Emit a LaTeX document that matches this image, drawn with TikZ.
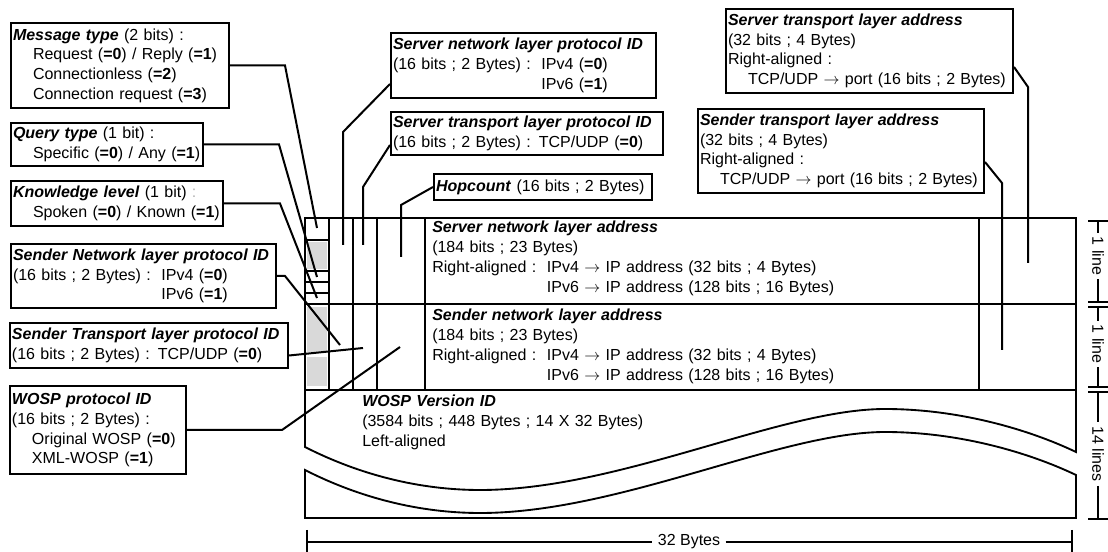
\documentclass[tikz,border=0pt]{standalone}
\usepackage{fontspec}
\setmainfont{Liberation Sans}
\usetikzlibrary{calc}
\newcommand\bfit[1]{\textbf{\textit{#1}}}
\newcommand\ind{\hspace*{15pt}}
\begin{document}
\begin{tikzpicture}[x=0.75pt,y=-0.75pt,
  every node/.style={font=\fontsize{12}{14.8}\selectfont},
  lbox/.style={draw, line width=1.5pt, anchor=north west, align=left, inner xsep=1.5pt, inner ysep=0pt},
  ptxt/.style={anchor=base west, align=left, inner sep=0pt},
  ptr/.style={line width=1.5pt},
  grid/.style={line width=1.4pt},
  thin grid/.style={line width=1pt},
  dim/.style={line width=1pt},
  shade/.style={fill=black!15}]
\useasboundingbox (0,0) rectangle (1108,552);

% grey fields
\fill[shade] (307,242) rectangle (327,269);
\fill[shade] (307,307) rectangle (327,352);
\fill[shade] (307,357) rectangle (327,386);

% packet grid
\draw[grid] (305,218) rectangle (1076,390);
\draw[grid] (305,304) -- (1076,304);
\foreach \x in {329,353,377,425,979} \draw[grid] (\x,218) -- (\x,390);
\foreach \y in {240,271,282,293} \draw[thin grid] (305,\y) -- (329,\y);

% version area with wave break
\draw[grid] (305,390) -- (305,447)
  .. controls (360,475) and (420,490) .. (480,490)
  .. controls (620,490) and (780,409) .. (885,409)
  .. controls (960,409) and (1030,430) .. (1076,452) -- (1076,390);
\draw[grid] (305,470)
  .. controls (360,498) and (420,513) .. (480,513)
  .. controls (620,513) and (780,432) .. (885,432)
  .. controls (960,432) and (1030,453) .. (1076,475) -- (1076,518) -- (305,518) -- cycle;

% packet texts
\node[ptxt, text width=405pt] (srvaddr) at (432,233)
  {\bfit{Server network layer address}\\
   (184 bits ; 23 Bytes)\\
   Right-aligned :\ \ IPv4 \(\rightarrow\) IP address (32 bits ; 4 Bytes)\\
   \hphantom{Right-aligned :\ \ }IPv6 \(\rightarrow\) IP address (128 bits ; 16 Bytes)};
\node[ptxt, text width=405pt] (sndaddr) at (432,321)
  {\bfit{Sender network layer address}\\
   (184 bits ; 23 Bytes)\\
   Right-aligned :\ \ IPv4 \(\rightarrow\) IP address (32 bits ; 4 Bytes)\\
   \hphantom{Right-aligned :\ \ }IPv6 \(\rightarrow\) IP address (128 bits ; 16 Bytes)};
\node[ptxt, text width=400pt] (wospver) at (362,407)
  {\bfit{WOSP Version ID}\\
   (3584 bits ; 448 Bytes ; 14 X 32 Bytes)\\
   Left-aligned};

% label boxes
\node[lbox, text width=160.5pt, minimum height=63.75pt] (msg) at (10,22)
  {\bfit{Message type} (2 bits) :\\
   \ind Request (\textbf{=0}) / Reply (\textbf{=1})\\
   \ind Connectionless (\textbf{=2})\\
   \ind Connection request (\textbf{=3})};
\node[lbox, text width=141pt, minimum height=32.25pt] (query) at (10,122)
  {\bfit{Query type} (1 bit) :\\
   \ind Specific (\textbf{=0}) / Any (\textbf{=1})};
\node[lbox, text width=156pt, minimum height=33.75pt] (know) at (10,180)
  {\bfit{Knowledge level} (1 bit) \textcolor{black!30}{:}\\
   \ind Spoken (\textbf{=0}) / Known (\textbf{=1})};
\node[lbox, text width=195.75pt, minimum height=48pt] (sndnp) at (10,243)
  {\bfit{Sender Network layer protocol ID}\\
   (16 bits ; 2 Bytes) :\ \ IPv4 (\textbf{=0})\\
   \hphantom{(16 bits ; 2 Bytes) :\ \ }IPv6 (\textbf{=1})};
\node[lbox, text width=205.5pt, minimum height=33.75pt] (sndtp) at (9,322)
  {\bfit{Sender Transport layer protocol ID}\\
   (16 bits ; 2 Bytes) : TCP/UDP (\textbf{=0})};
\node[lbox, text width=129pt, minimum height=66pt] (wospp) at (9,385)
  {\bfit{WOSP protocol ID}\\
   (16 bits ; 2 Bytes) :\\
   \ind Original WOSP (\textbf{=0})\\
   \ind XML-WOSP (\textbf{=1})};
\node[lbox, text width=195.75pt, minimum height=48.75pt] (srvnp) at (390,32)
  {\bfit{Server network layer protocol ID}\\
   (16 bits ; 2 Bytes) :\ \ IPv4 (\textbf{=0})\\
   \hphantom{(16 bits ; 2 Bytes) :\ \ }IPv6 (\textbf{=1})};
\node[lbox, text width=201pt, minimum height=32.25pt] (srvtp) at (390,111)
  {\bfit{Server transport layer protocol ID}\\
   (16 bits ; 2 Bytes) : TCP/UDP (\textbf{=0})};
\node[lbox, text width=160.5pt, minimum height=19.5pt] (hop) at (433,173)
  {\bfit{Hopcount} (16 bits ; 2 Bytes)};
\node[lbox, text width=212.25pt, minimum height=63pt] (srvta) at (725,8)
  {\bfit{Server transport layer address}\\
   (32 bits ; 4 Bytes)\\
   Right-aligned :\\
   \ind TCP/UDP \(\rightarrow\) port (16 bits ; 2 Bytes)};
\node[lbox, text width=211.5pt, minimum height=63pt] (sndta) at (697,108)
  {\bfit{Sender transport layer address}\\
   (32 bits ; 4 Bytes)\\
   Right-aligned :\\
   \ind TCP/UDP \(\rightarrow\) port (16 bits ; 2 Bytes)};

% pointer ends
\coordinate (eMsg) at (317,228);
\coordinate (eQuery) at (317,277);
\coordinate (eKnow) at (317,298);
\coordinate (eSndNP) at (340,345);
\coordinate (eSndTP) at (363,348);
\coordinate (eWosp) at (400,347);
\coordinate (eSrvNP) at (343,245);
\coordinate (eSrvTP) at (363,245);
\coordinate (eHop) at (401,257);
\coordinate (eSrvTA) at (1028,263);
\coordinate (eSndTA) at (1002,350);

% pointers
\draw[ptr] (msg.east) -- ++(55,0) -- (eMsg);
\draw[ptr] (query.east) -- ++(75,0) -- (eQuery);
\draw[ptr] (know.east) -- ++(56,0) -- (eKnow);
\draw[ptr] (sndnp.east) -- ++(8,0) -- (eSndNP);
\draw[ptr] ($(sndtp.east)+(0,10)$) -- (eSndTP);
\draw[ptr] (wospp.east) -- ++(95,0) -- (eWosp);
\draw[ptr] ($(srvnp.south west)+(0,-15)$) -- (343,132) -- (eSrvNP);
\draw[ptr] ($(srvtp.south west)+(0,-11)$) -- (363,187) -- (eSrvTP);
\draw[ptr] (hop.west) -- (401,205) -- (eHop);
\draw[ptr] ($(srvta.south east)+(0,-27)$) -- (1028,87) -- (eSrvTA);
\draw[ptr] ($(sndta.south east)+(0,-32)$) -- (1002,183) -- (eSndTA);

% horizontal dimension
\coordinate (hL) at (307,542);
\coordinate (hR) at (1072,542);
\draw[dim] (307,530) -- (307,552);
\draw[dim] (1072,530) -- (1072,552);
\node[inner sep=4pt] (w32) at (689,542) {32 Bytes};
\draw[dim] (hL) -- (w32.west);
\draw[dim] (w32.east) -- (hR);

% vertical dimensions
\node[rotate=-90, inner sep=3pt] (d1) at (1098,256) {1 line};
\node[rotate=-90, inner sep=3pt] (d2) at (1098,344) {1 line};
\node[rotate=-90, inner sep=3pt] (d3) at (1098,454) {14 lines};
\coordinate (t1a) at (1098,221); \coordinate (t1b) at (1098,302);
\coordinate (t2a) at (1098,307); \coordinate (t2b) at (1098,387);
\coordinate (t3a) at (1098,392); \coordinate (t3b) at (1098,519);
\foreach \t in {t1a,t1b,t2a,t2b,t3a,t3b}
  \draw[dim] ($(\t)+(-10,0)$) -- ($(\t)+(10,0)$);
\draw[dim] (t1a) -- (d1.west);
\draw[dim] (d1.east) -- (t1b);
\draw[dim] (t2a) -- (d2.west);
\draw[dim] (d2.east) -- (t2b);
\draw[dim] (t3a) -- (d3.west);
\draw[dim] (d3.east) -- (t3b);
\end{tikzpicture}
\end{document}
